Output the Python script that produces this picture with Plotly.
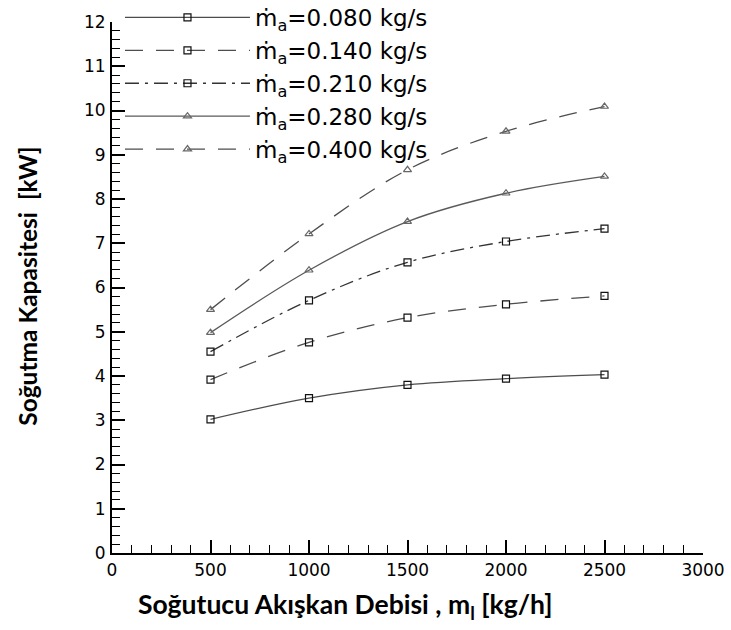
import plotly.graph_objects as go

flow = [500, 1000, 1500, 2000, 2500]
labels = ["ṁ<sub>a</sub>=0.080 kg/s", "ṁ<sub>a</sub>=0.140 kg/s", "ṁ<sub>a</sub>=0.210 kg/s",
          "ṁ<sub>a</sub>=0.280 kg/s", "ṁ<sub>a</sub>=0.400 kg/s"]
q_080 = [3.02, 3.50, 3.80, 3.94, 4.03]
q_140 = [3.92, 4.76, 5.32, 5.62, 5.81]
q_210 = [4.55, 5.71, 6.57, 7.04, 7.33]
q_280 = [4.98, 6.39, 7.49, 8.13, 8.51]
q_400 = [5.50, 7.21, 8.66, 9.53, 10.09]
x_title = "Soğutucu Akışkan Debisi , m<sub>l</sub> [kg/h]"
y_title = "Soğutma Kapasitesi  [kW]"

series = [q_080, q_140, q_210, q_280, q_400]
dashes = ["solid", "18px,13px", "14px,6px,3px,6px", "solid", "18px,13px"]
symbols = ["square-open", "square-open", "square-open", "triangle-up-open", "triangle-up-open"]
lcolors = ["#4d4d4d", "#4d4d4d", "#333333", "#5a5a5a", "#4d4d4d"]
mcolors = ["#111111", "#111111", "#111111", "#666666", "#666666"]

fig = go.Figure()
for lab, ys, d, s, lc, mc in zip(labels, series, dashes, symbols, lcolors, mcolors):
    fig.add_trace(go.Scatter(
        x=flow, y=ys, name=lab, mode="lines+markers",
        line=dict(color=lc, width=1.3, dash=d, shape="spline"),
        marker=dict(symbol=s, size=7, color=mc, line=dict(color=mc, width=1.2)),
    ))

tick_font = dict(size=17, family="DejaVu Sans, Liberation Sans, Arial", color="black")

fig.update_layout(
    width=731, height=630,
    margin=dict(l=112, r=28, t=22, b=77, autoexpand=False),
    paper_bgcolor="white", plot_bgcolor="white",
    font=dict(family="DejaVu Sans, Liberation Sans, Arial, sans-serif", color="black"),
    showlegend=True,
    legend=dict(x=0.0135, y=1.049, xanchor="left", yanchor="top",
                bgcolor="rgba(0,0,0,0)", itemwidth=125,
                font=dict(size=23, family="DejaVu Sans, Liberation Sans"),
                tracegroupgap=0),
    xaxis=dict(range=[0, 3000], tickvals=[0, 500, 1000, 1500, 2000, 2500, 3000],
               ticks="inside", ticklen=13, tickwidth=1.5, tickcolor="black",
               showline=True, linecolor="black", linewidth=2, showgrid=False, zeroline=False,
               tickfont=tick_font, ticklabelstandoff=1, automargin=False,
               minor=dict(dtick=100, ticks="inside", ticklen=8, tickwidth=1, tickcolor="black", showgrid=False)),
    yaxis=dict(range=[0, 12], dtick=1,
               ticks="inside", ticklen=13, tickwidth=1.5, tickcolor="black",
               showline=True, linecolor="black", linewidth=2, showgrid=False, zeroline=False,
               tickfont=tick_font, ticklabelstandoff=1, automargin=False,
               minor=dict(dtick=0.2, ticks="inside", ticklen=8, tickwidth=1, tickcolor="black", showgrid=False)),
    annotations=[
        dict(text=x_title, xref="paper", yref="paper", x=(345 - 112) / 591, y=-(607 - 553.5) / 531.5,
             xanchor="center", yanchor="middle", showarrow=False,
             font=dict(size=26.5, family="Lato, Open Sans, sans-serif", weight="bold", color="black")),
        dict(text=y_title, xref="paper", yref="paper", x=-(112 - 28) / 591, y=(553.5 - 287) / 531.5,
             xanchor="center", yanchor="middle", textangle=-90, showarrow=False,
             font=dict(size=24.5, family="Lato, Open Sans, sans-serif", weight="bold", color="black")),
    ],
)

fig.write_html("out.html", config={"displayModeBar": False},
               post_script="document.body.style.margin='0px';")
